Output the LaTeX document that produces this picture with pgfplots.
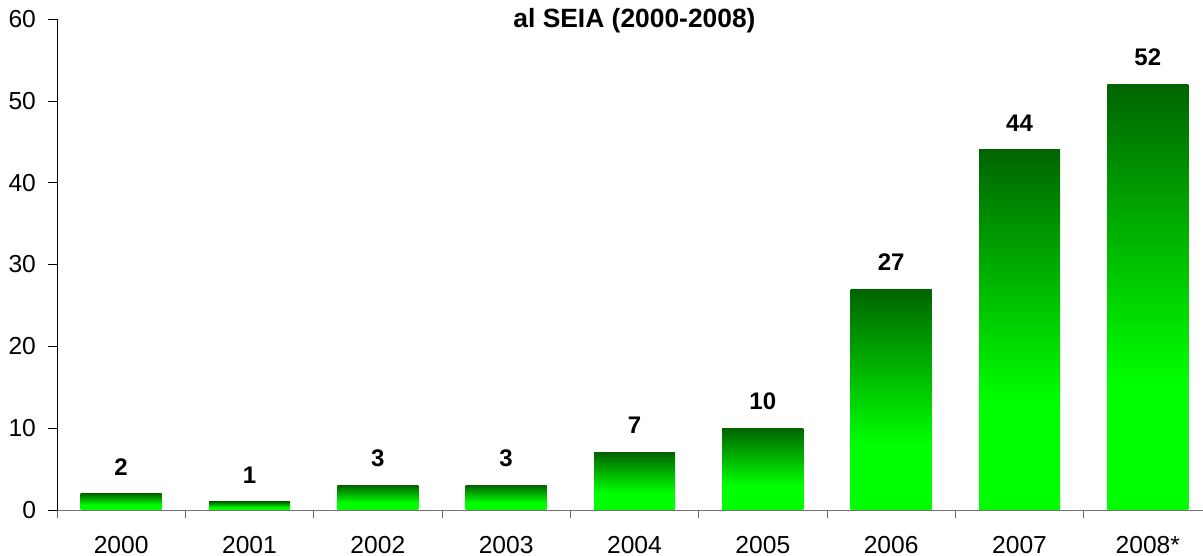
\documentclass[border=0pt]{standalone}
\usepackage{fontspec}
\setmainfont{Liberation Sans}
\usepackage{pgfplots}
\pgfplotsset{compat=1.18}
\definecolor{bartop}{RGB}{0,100,0}
\definecolor{barbottom}{RGB}{0,255,0}
% vertical green ramp: dark at the top of each bar, bright from about 30% down
\pgfdeclareverticalshading{bargreen}{100bp}{color(0bp)=(barbottom); color(40bp)=(barbottom); color(75bp)=(bartop); color(100bp)=(bartop)}
\begin{document}
\begin{tikzpicture}
\useasboundingbox (-28.5pt,-23pt) rectangle (573pt,255pt);
\begin{axis}[
  scale only axis, width=577.5pt, height=245.5pt,
  xmin=-0.5, xmax=8.5, ymin=0, ymax=60,
  axis lines*=left,
  y axis line style={black}, x axis line style={black!55},
  ytick={0,10,...,60}, tick align=outside, major tick length=4.5pt,
  ytick style={draw=black},
  yticklabel style={xshift=-2.5pt},
  xtick={0,...,8},
  xticklabels={2000,2001,2002,2003,2004,2005,2006,2007,2008*},
  xticklabel style={yshift=-5pt},
  xtick style={draw=none},
  extra x ticks={-0.5,0.5,...,8.5}, extra x tick labels={},
  extra x tick style={xtick style={draw=black!60}, major tick length=4pt},
  tick label style={font=\fontsize{12.3}{14}\selectfont},
  /pgf/number format/assume math mode=true,
  title={al SEIA (2000-2008)},
  title style={font=\fontsize{13.2}{15}\selectfont\bfseries, at={(0.5,1)}, anchor=center, yshift=-7pt},
  ybar, bar width=40.5pt, bar shift=0pt,
  every axis plot/.append style={draw=none, shade, shading=bargreen},
  nodes near coords,
  nodes near coords style={font=\fontsize{12}{14}\selectfont\bfseries, anchor=center, yshift=13.5pt, text=black},
  clip=false,
]
% one plot per year so each bar gets its own shading
\addplot coordinates {(0,2)};
\addplot coordinates {(1,1)};
\addplot coordinates {(2,3)};
\addplot coordinates {(3,3)};
\addplot coordinates {(4,7)};
\addplot coordinates {(5,10)};
\addplot coordinates {(6,27)};
\addplot coordinates {(7,44)};
\addplot coordinates {(8,52)};
\end{axis}
\end{tikzpicture}
\end{document}
